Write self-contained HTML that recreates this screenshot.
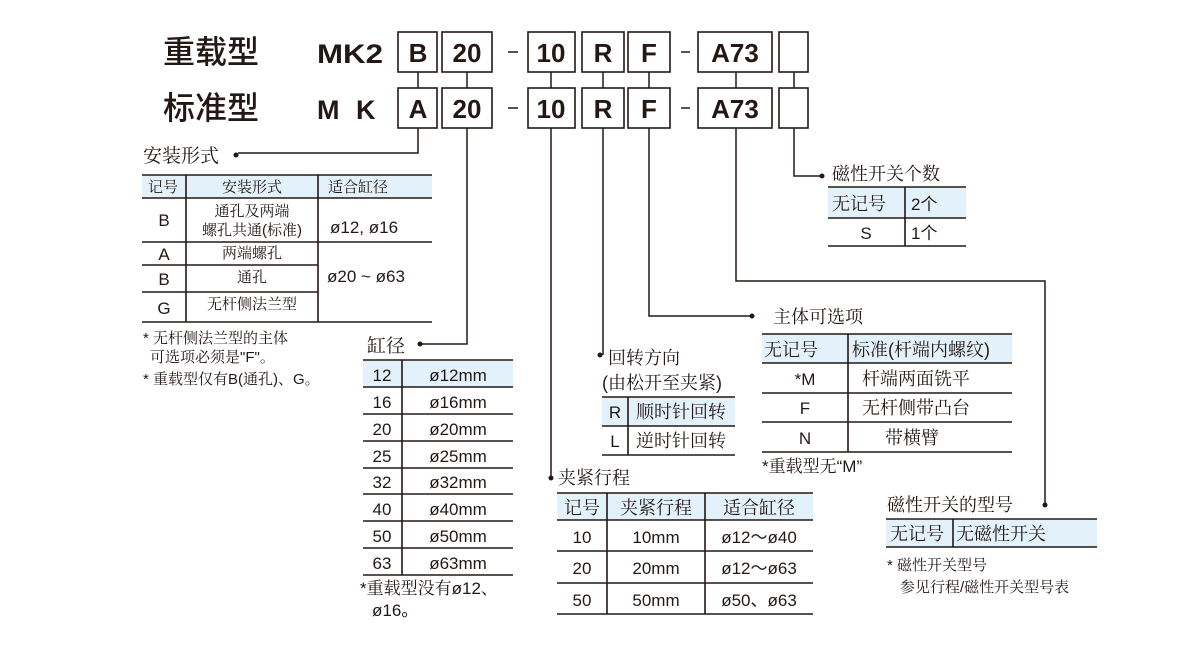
<!DOCTYPE html>
<html><head><meta charset="utf-8"><style>
html,body{margin:0;padding:0;background:#fff;width:1200px;height:650px;overflow:hidden}
svg{display:block}
text{font-family:"Liberation Sans","Noto Sans CJK SC",sans-serif;fill:#231815}
.s{font-family:"Liberation Sans","Noto Serif CJK SC",serif;fill:#231815}
.b{font-weight:bold}
</style></head><body>
<svg width="1200" height="650" viewBox="0 0 1200 650" xmlns="http://www.w3.org/2000/svg">
<g stroke="#231815" fill="none">
<g stroke-width="1.6" fill="#fff">
<rect x="398" y="32" width="39" height="40"/><rect x="442" y="32" width="50" height="40"/>
<rect x="528" y="32" width="47" height="40"/><rect x="582" y="32" width="42" height="40"/>
<rect x="628" y="32" width="42" height="40"/><rect x="698" y="32" width="74" height="40"/>
<rect x="779" y="32" width="29" height="40"/>
<rect x="398" y="88" width="39" height="40"/><rect x="442" y="88" width="50" height="40"/>
<rect x="528" y="88" width="47" height="40"/><rect x="582" y="88" width="42" height="40"/>
<rect x="628" y="88" width="42" height="40"/><rect x="698" y="88" width="74" height="40"/>
<rect x="779" y="88" width="29" height="40"/>
</g>
<g stroke-width="1.5">
<path d="M418 72V88M467 72V88M551 72V88M603 72V88M649 72V88M736 72V88M794 72V88"/>
<path d="M418 128V153H238"/>
<path d="M467 128V344H420"/>
<path d="M551 128V478"/>
<path d="M603 128V355"/>
<path d="M649 128V316H750"/>
<path d="M736 128V281H1045V503"/>
<path d="M794 128V176H820"/>
<path d="M508 52H518M508 108H518M681 52H690M681 108H690"/>
</g>
</g>
<g fill="#231815">
<circle cx="236" cy="155" r="2.5"/><circle cx="420" cy="344" r="2.5"/><circle cx="551" cy="478" r="2.5"/>
<circle cx="600" cy="355" r="2.5"/><circle cx="752" cy="316" r="2.5"/><circle cx="1045" cy="505" r="2.5"/><circle cx="822" cy="176" r="2.5"/>
</g>
<text x="163" y="63" font-size="32" style="font-family:'Noto Sans CJK SC',sans-serif;font-weight:500">重载型</text>
<text x="163" y="119" font-size="32" style="font-family:'Noto Sans CJK SC',sans-serif;font-weight:500">标准型</text>
<text x="317" y="63" font-size="27" class="b" textLength="66" lengthAdjust="spacingAndGlyphs">MK2</text>
<text x="317" y="119" font-size="27" class="b">M</text><text x="356" y="119" font-size="27" class="b">K</text>
<g font-size="26" class="b" text-anchor="middle">
<text x="418" y="62">B</text><text x="467" y="62">20</text><text x="551" y="62">10</text><text x="603" y="62">R</text><text x="649" y="62">F</text><text x="735" y="62">A73</text>
<text x="418" y="118">A</text><text x="467" y="118">20</text><text x="551" y="118">10</text><text x="603" y="118">R</text><text x="649" y="118">F</text><text x="735" y="118">A73</text>
</g>
<g fill="#e3f1fa">
<rect x="142" y="175" width="290" height="23"/>
<rect x="363" y="360" width="150" height="27"/>
<rect x="602" y="397" width="133" height="29"/>
<rect x="762" y="334" width="250" height="29"/>
<rect x="557" y="493" width="256" height="27"/>
<rect x="828" y="187" width="138" height="31"/>
<rect x="886" y="519" width="211" height="28"/>
</g>
<g stroke="#231815" stroke-width="1.6" fill="none">
<path d="M142 175H432M142 198H432M142 242H432M142 265H318M142 292H318M142 322H432M186 175V322M318 175V322"/>
<path d="M363 360H513M363 387H513M363 414H513M363 441H513M363 468H513M363 494H513M363 521H513M363 548H513M363 575H513M402 360V575"/>
<path d="M602 397H735M602 426H735M602 455H735M628 397V455"/>
<path d="M762 334H1012M762 363H1012M762 393H1012M762 422H1012M762 452H1012M848 334V452"/>
<path d="M557 493H813M557 520H813M557 551H813M557 583H813M557 614H813M607 493V614M705 493V614"/>
<path d="M828 187H966M828 218H966M828 246H966M905 187V246"/>
<path d="M886 519H1097M886 547H1097M953 519V547"/>
</g>
<g font-size="17">
<text x="143" y="162" class="s" font-size="19">安装形式</text>
<text x="148" y="192" class="s" font-size="15">记号</text><text x="252" y="192" class="s" font-size="15" text-anchor="middle">安装形式</text><text x="328" y="192" class="s" font-size="15">适合缸径</text>
<text x="164" y="226" text-anchor="middle">B</text>
<text x="252" y="216" class="s" font-size="15" text-anchor="middle">通孔及两端</text><text x="252" y="235" class="s" font-size="15" text-anchor="middle">螺孔共通(标准)</text>
<text x="330" y="233">ø12, ø16</text>
<text x="164" y="260" text-anchor="middle">A</text><text x="252" y="258" class="s" font-size="15" text-anchor="middle">两端螺孔</text>
<text x="164" y="285" text-anchor="middle">B</text><text x="252" y="282" class="s" font-size="15" text-anchor="middle">通孔</text>
<text x="164" y="314" text-anchor="middle">G</text><text x="252" y="309" class="s" font-size="15" text-anchor="middle">无杆侧法兰型</text>
<text x="327" y="282">ø20 ~ ø63</text>
<text x="143" y="343" class="s" font-size="15">* 无杆侧法兰型的主体</text>
<text x="150" y="362" class="s" font-size="15">可选项必须是"F"。</text>
<text x="143" y="384" class="s" font-size="15">* 重载型仅有B(通孔)、G。</text>

<text x="367" y="352" class="s" font-size="19">缸径</text>
<text x="382" y="381" text-anchor="middle">12</text><text x="458" y="381" text-anchor="middle">ø12mm</text>
<text x="382" y="408" text-anchor="middle">16</text><text x="458" y="408" text-anchor="middle">ø16mm</text>
<text x="382" y="435" text-anchor="middle">20</text><text x="458" y="435" text-anchor="middle">ø20mm</text>
<text x="382" y="462" text-anchor="middle">25</text><text x="458" y="462" text-anchor="middle">ø25mm</text>
<text x="382" y="488" text-anchor="middle">32</text><text x="458" y="488" text-anchor="middle">ø32mm</text>
<text x="382" y="515" text-anchor="middle">40</text><text x="458" y="515" text-anchor="middle">ø40mm</text>
<text x="382" y="542" text-anchor="middle">50</text><text x="458" y="542" text-anchor="middle">ø50mm</text>
<text x="382" y="569" text-anchor="middle">63</text><text x="458" y="569" text-anchor="middle">ø63mm</text>
<text x="360" y="594" class="s">*重载型没有ø12、</text>
<text x="372" y="616">ø16。</text>

<text x="608" y="364" class="s" font-size="18">回转方向</text>
<text x="602" y="389" class="s" font-size="18">(由松开至夹紧)</text>
<text x="615" y="418" text-anchor="middle">R</text><text x="636" y="418" class="s" font-size="18">顺时针回转</text>
<text x="615" y="447" text-anchor="middle">L</text><text x="636" y="447" class="s" font-size="18">逆时针回转</text>

<text x="773" y="323" class="s" font-size="18">主体可选项</text>
<text x="764" y="356" class="s" font-size="18">无记号</text><text x="852" y="356" class="s" font-size="18">标准(杆端内螺纹)</text>
<text x="805" y="385" text-anchor="middle">*M</text><text x="862" y="385" class="s" font-size="18">杆端两面铣平</text>
<text x="805" y="414" text-anchor="middle">F</text><text x="862" y="414" class="s" font-size="18">无杆侧带凸台</text>
<text x="805" y="444" text-anchor="middle">N</text><text x="885" y="444" class="s" font-size="18">带横臂</text>
<text x="762" y="472" class="s">*重载型无“M”</text>

<text x="558" y="484" class="s" font-size="18">夹紧行程</text>
<text x="582" y="514" class="s" font-size="18" text-anchor="middle">记号</text><text x="656" y="514" class="s" font-size="18" text-anchor="middle">夹紧行程</text><text x="759" y="514" class="s" font-size="18" text-anchor="middle">适合缸径</text>
<text x="582" y="543" text-anchor="middle">10</text><text x="656" y="543" text-anchor="middle">10mm</text><text x="759" y="543" text-anchor="middle">ø12～ø40</text>
<text x="582" y="574" text-anchor="middle">20</text><text x="656" y="574" text-anchor="middle">20mm</text><text x="759" y="574" text-anchor="middle">ø12～ø63</text>
<text x="582" y="606" text-anchor="middle">50</text><text x="656" y="606" text-anchor="middle">50mm</text><text x="759" y="606" text-anchor="middle">ø50、ø63</text>

<text x="832" y="180" class="s" font-size="18">磁性开关个数</text>
<text x="832" y="210" class="s" font-size="18">无记号</text><text x="911" y="210">2个</text>
<text x="866" y="239" text-anchor="middle">S</text><text x="911" y="239">1个</text>

<text x="887" y="511" class="s" font-size="18">磁性开关的型号</text>
<text x="890" y="540" class="s" font-size="18">无记号</text><text x="956" y="540" class="s" font-size="18">无磁性开关</text>
<text x="887" y="570" class="s" font-size="15">* 磁性开关型号</text>
<text x="900" y="592" class="s" font-size="15">参见行程/磁性开关型号表</text>
</g>
</svg>
</body></html>
